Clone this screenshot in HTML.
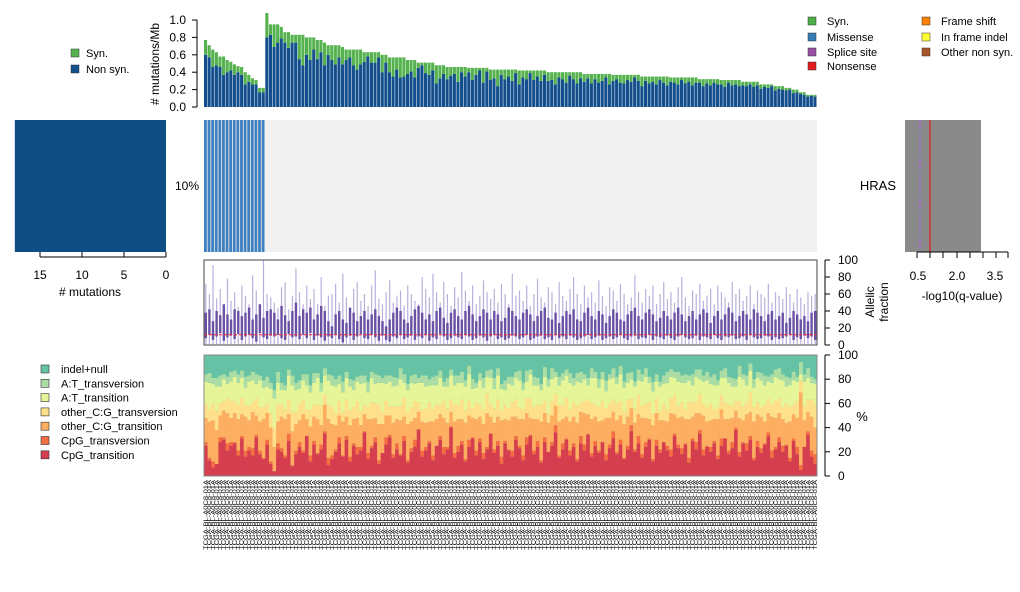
<!DOCTYPE html>
<html><head><meta charset="utf-8"><style>
body{margin:0;background:#fff;font-family:"Liberation Sans",sans-serif;}
svg text{font-family:"Liberation Sans",sans-serif;fill:#000;}
</style></head><body>
<svg id="chart" width="1020" height="587" viewBox="0 0 1020 587" xmlns="http://www.w3.org/2000/svg">
</svg>
<script>
const syn=[.17,.14,.20,.15,.12,.21,.14,.10,.12,.07,
.09,.14,.08,.07,.05,.05,.05,.28,.12,.26,
.21,.13,.12,.18,.09,.09,.28,.35,.20,.26,
.14,.22,.14,.26,.11,.17,.22,.14,.20,.12,
.09,.18,.23,.17,.11,.05,.12,.12,.06,.20,
.09,.17,.22,.14,.23,.22,.16,.13,.20,.06,
.03,.12,.14,.09,.21,.15,.10,.14,.10,.08,
.17,.06,.11,.05,.14,.08,.03,.17,.04,.12,
.10,.19,.06,.11,.08,.13,.04,.16,.08,.10,
.03,.11,.07,.12,.05,.10,.09,.14,.06,.08,
.12,.04,.08,.13,.07,.09,.05,.11,.06,.10,
.08,.04,.12,.07,.05,.09,.10,.06,.08,.03,
.07,.11,.05,.08,.06,.09,.04,.07,.10,.05,
.06,.08,.03,.07,.05,.09,.06,.04,.08,.05,
.07,.04,.06,.05,.08,.03,.06,.05,.07,.04,
.05,.03,.06,.04,.05,.03,.04,.02,.05,.03,
.04,.03,.02,.04,.03,.02,.03,.02,.01,.02];
const total=[.77,.71,.66,.63,.58,.58,.54,.52,.49,.47,
.46,.40,.37,.33,.31,.22,.22,1.08,.95,.95,
.95,.92,.86,.86,.83,.83,.83,.83,.80,.80,
.80,.77,.77,.74,.71,.71,.71,.71,.69,.66,
.66,.66,.66,.66,.63,.63,.63,.63,.63,.60,
.60,.57,.57,.57,.57,.57,.54,.54,.54,.51,
.51,.51,.51,.51,.48,.48,.48,.46,.46,.46,
.46,.46,.46,.45,.45,.45,.45,.45,.45,.43,
.43,.43,.43,.43,.43,.43,.43,.42,.42,.42,
.42,.42,.42,.42,.42,.40,.40,.40,.40,.40,
.40,.40,.40,.40,.40,.38,.38,.38,.38,.38,
.38,.38,.38,.37,.37,.37,.37,.37,.37,.37,
.37,.35,.35,.35,.35,.35,.35,.35,.35,.34,
.34,.34,.34,.34,.34,.34,.34,.32,.32,.32,
.32,.32,.32,.31,.31,.31,.31,.31,.31,.29,
.29,.29,.29,.29,.26,.26,.26,.26,.24,.24,
.24,.22,.22,.20,.20,.17,.17,.14,.14,.14];
const afHi=[38,42,28,40,35,48,36,30,42,40,
34,38,44,30,36,48,32,40,42,38,30,46,35,28,40,
50,34,42,38,44,30,36,46,40,28,22,36,40,30,26,
44,38,28,34,40,30,36,42,34,28,22,30,38,44,40,
30,26,34,42,46,38,30,36,28,40,44,32,26,38,42,
34,30,40,46,36,28,34,42,38,30,40,36,28,32,44,
40,34,30,38,42,36,28,34,40,44,32,30,38,26,34,
40,36,42,30,28,38,44,34,30,40,36,26,34,42,38,
30,28,36,40,44,34,30,38,42,36,28,32,40,34,30,
38,44,36,28,34,40,30,36,42,38,26,34,40,30,36,
44,38,28,34,40,36,30,42,38,34,28,36,40,30,34,
38,26,32,40,36,30,34,28,38,40];
const afLo=[8,12,6,10,14,5,9,11,7,13,
6,10,12,8,4,14,9,7,11,10,12,8,6,13,9,
10,7,12,8,14,6,11,9,5,10,8,12,7,3,9,
11,6,10,13,8,7,12,9,5,11,6,4,10,8,12,
7,9,11,6,10,8,12,5,9,7,13,10,6,8,11,
9,7,12,10,6,8,11,9,5,10,12,7,9,6,8,
11,10,7,9,12,6,8,10,11,7,9,6,12,8,10,
7,11,9,6,8,10,12,7,9,11,6,8,10,7,9,
12,8,6,10,11,7,9,8,12,6,10,9,7,11,8,
6,10,12,9,7,8,11,6,10,9,7,12,8,6,10,
9,11,7,8,10,6,12,9,7,8,11,10,6,9,7,
8,10,12,6,9,7,11,8,10,6];
const afMx=[72,60,94,55,66,40,78,52,62,45,
70,58,48,82,64,40,100,60,56,50,44,68,74,42,58,
90,62,48,70,54,66,48,80,46,58,60,72,50,84,56,
42,66,74,52,60,46,70,88,54,48,62,76,50,58,64,
46,70,60,52,48,80,66,56,84,62,50,74,60,46,68,
56,86,64,52,70,48,58,76,62,54,66,50,72,60,48,
84,58,64,52,70,46,60,78,56,50,68,62,48,74,58,
52,66,80,60,48,70,56,62,50,76,58,46,68,64,52,
72,60,48,56,82,62,50,66,58,70,48,60,74,54,62,
50,68,80,56,46,64,60,72,52,58,66,48,70,62,56,
50,74,60,66,52,58,70,48,64,60,56,72,50,62,58,
54,68,60,50,66,56,48,62,58,60];
const cpgTs=[25,13,7,10,28,30,21,25,27,17,
31,16,21,17,32,18,14,26,10,4,22,20,15,29,8,
18,24,19,33,12,26,18,22,35,9,14,20,27,16,30,
12,25,18,21,36,14,23,28,10,19,26,32,15,22,17,
29,11,20,24,38,16,21,27,13,25,30,18,22,40,15,
20,26,12,24,31,17,28,14,22,35,19,25,10,27,21,
16,30,23,13,26,33,18,24,11,28,20,25,36,15,22,
30,17,24,12,27,21,34,16,25,19,28,13,23,31,18,
26,14,22,37,20,27,15,24,30,12,25,19,28,21,16,
33,23,18,26,11,29,22,35,17,24,20,27,14,25,31,
18,23,38,16,27,21,30,13,24,19,26,33,15,22,28,
20,25,12,29,18,5,24,34,16,10];
const cpgTv=[3,2,5,0,4,2,6,3,1,4,
2,5,3,6,2,3,1,4,2,0,5,3,2,6,1,
3,4,2,0,5,3,1,4,2,6,3,2,5,1,3,
4,2,6,3,1,5,2,4,3,0,6,2,3,5,1,
4,2,3,6,1,5,3,2,4,0,3,6,2,1,4,
5,3,2,6,1,4,3,5,2,0,3,4,6,2,1,
5,3,2,4,6,1,3,5,2,4,0,3,6,2,5,
1,4,3,2,6,5,1,3,4,2,0,5,3,6,2,
4,1,3,5,2,6,3,4,1,2,5,3,0,4,6,
2,3,5,1,4,2,6,3,5,1,4,2,3,6,0,
3,5,2,4,1,6,3,2,5,4,1,3,6,2,4,
5,1,3,2,6,4,0,3,5,8];
const otherTs=[20,30,34,28,18,22,25,20,24,26,
18,28,22,30,16,24,32,22,28,20,18,26,30,16,28,
22,18,30,14,24,20,28,16,22,32,26,20,18,28,16,
26,20,24,18,14,28,22,16,30,24,18,16,26,20,28,
16,30,22,18,14,24,20,16,28,22,18,24,20,12,26,
22,18,30,20,16,26,18,24,28,14,22,20,30,18,24,
28,16,22,30,20,14,26,18,32,20,24,22,16,28,20,
18,24,22,30,20,26,16,28,20,24,18,30,22,16,26,
20,28,24,14,22,18,30,20,16,28,22,24,18,20,30,
16,22,26,20,32,18,24,14,28,20,22,18,30,24,16,
26,20,14,28,18,24,20,30,22,26,18,16,28,24,20,
22,18,30,20,24,60,22,16,28,22];
const otherTv=[12,10,14,16,10,8,12,14,10,12,
14,10,12,8,14,12,10,8,12,16,14,10,8,12,16,
10,14,12,8,14,10,12,16,8,12,14,10,12,8,14,
12,10,14,12,8,10,14,12,16,10,12,8,14,10,12,
16,10,12,14,8,10,12,16,10,12,8,14,12,10,14,
12,16,10,12,8,14,10,12,16,10,12,14,8,12,10,
12,14,10,8,12,16,10,12,14,10,8,12,10,14,12,
16,10,12,14,8,10,12,14,10,12,16,8,12,10,14,
12,10,14,8,12,16,10,12,14,10,12,8,14,10,12,
16,10,12,8,14,12,10,16,10,12,14,8,10,12,14,
12,10,8,14,12,10,16,12,10,8,14,12,10,14,12,
10,16,12,8,14,10,12,10,14,20];
const atTs=[18,22,16,20,14,18,12,16,20,18,
16,14,20,18,12,22,16,14,20,24,18,12,16,20,22,
18,12,16,20,14,18,22,12,16,20,18,22,14,16,18,
20,14,16,22,18,12,20,16,18,24,14,20,16,18,22,
12,18,20,14,16,22,18,14,20,16,22,12,18,20,16,
18,14,20,22,16,12,20,18,14,22,16,20,18,12,20,
14,18,22,16,14,20,18,16,12,20,22,18,14,16,20,
18,22,14,20,16,18,12,20,22,16,18,14,20,18,16,
22,20,14,16,18,12,20,22,16,18,14,20,16,22,18,
14,20,16,22,18,14,20,12,18,22,16,20,18,14,20,
18,16,12,20,22,14,18,16,20,22,16,14,18,20,16,
22,14,18,20,16,5,20,18,14,16];
const atTv=[6,8,5,7,9,4,6,8,5,7,
6,9,5,7,8,4,6,8,5,7,9,6,4,5,8,
6,7,5,9,6,8,4,7,6,5,8,6,7,9,5,
6,8,4,7,6,9,5,8,6,4,7,5,8,6,9,
7,5,6,8,4,6,9,5,7,8,6,4,7,5,8,
6,9,5,7,8,4,6,8,5,7,9,6,4,8,6,
7,5,8,6,9,4,7,6,5,8,6,9,4,7,6,
5,8,6,7,9,4,6,8,5,7,6,9,4,8,6,
7,5,8,6,4,9,6,7,5,8,6,4,7,9,6,
5,8,6,7,4,9,6,8,5,7,6,9,4,6,8,
5,7,6,9,4,8,6,7,5,6,8,4,7,6,9,
5,8,6,7,4,10,6,8,5,4];
const xTicksLeft=[15,10,5,0];
const topTicks=[0,0.2,0.4,0.6,0.8,1.0];
const pctTicks=[0,20,40,60,80,100];
const qTickLabels=["0.5","2.0","3.5"];

const NS="http://www.w3.org/2000/svg";
const svg=document.getElementById('chart');
function mk(tag,attrs,parent){const e=document.createElementNS(NS,tag);for(const k in attrs)e.setAttribute(k,attrs[k]);(parent||svg).appendChild(e);return e;}
function txt(s,attrs,parent){const e=mk('text',attrs,parent);e.textContent=s;return e;}

const N=total.length, X0=204, X1=817, bw=(X1-X0)/N;
const xs=i=>X0+i*bw;
const yTop=v=>107-v*87;
const gTop=mk('g',{});


for(let i=0;i<N;i++){
 const ns=Math.max(0,total[i]-syn[i]);
 const r1=mk('rect',{x:xs(i),y:yTop(ns),width:bw-0.5,height:yTop(0)-yTop(ns),fill:'#134f8c'},gTop);
 
 
 const r2=mk('rect',{x:xs(i),y:yTop(total[i]),width:bw-0.5,height:yTop(ns)-yTop(total[i]),fill:'#55b24f'},gTop);
 
 
}
const axT=mk('g',{});


mk('line',{x1:197,x2:197,y1:yTop(0),y2:yTop(1),stroke:'#000'},axT);
topTicks.forEach(t=>{mk('line',{x1:192,x2:197,y1:yTop(t),y2:yTop(t),stroke:'#000'},axT);txt(t.toFixed(1),{x:186,y:yTop(t)+4,'font-size':12,'text-anchor':'end'},axT);});
const yt=txt('# mutations/Mb',{x:159,y:64,'font-size':12,'text-anchor':'middle',transform:'rotate(-90 159 64)'});


[['Syn.','#55b24f',53],['Non syn.','#134f8c',69]].forEach(([l,c,y])=>{
 const g=mk('g',{});
 mk('rect',{x:71,y:y-4,width:8,height:8,fill:c,stroke:'#333','stroke-width':0.5},g);
 txt(l,{x:86,y:y+4,'font-size':11},g);
});
[['Syn.','#4daf4a',808,21],['Missense','#377eb8',808,37],['Splice site','#984ea3',808,52],['Nonsense','#e41a1c',808,66],
 ['Frame shift','#ff7f00',922,21],['In frame indel','#ffff33',922,37],['Other non syn.','#a65628',922,52]].forEach(([l,c,x,y])=>{
 const g=mk('g',{});
 mk('rect',{x:x,y:y-4,width:8,height:8,fill:c,stroke:'#333','stroke-width':0.5},g);
 txt(l,{x:x+19,y:y+4,'font-size':11},g);
});

const mutCount=[18];
const xL=v=>166-v*8.4;
const lb=mk('rect',{x:xL(mutCount[0]),y:120,width:166-xL(mutCount[0]),height:132,fill:'#0f4d85'});

const axL=mk('g',{});
mk('line',{x1:xL(15),x2:166,y1:257,y2:257,stroke:'#000'},axL);
xTicksLeft.forEach(t=>{mk('line',{x1:xL(t),x2:xL(t),y1:252,y2:257,stroke:'#000'},axL);txt(String(t),{x:xL(t),y:279,'font-size':12,'text-anchor':'middle'},axL);});
txt('# mutations',{x:90,y:296,'font-size':12,'text-anchor':'middle'},axL);
const pc=txt('10%',{x:187,y:190,'font-size':12,'text-anchor':'middle'});

const mutated=17;
const gO=mk('g',{});
mk('rect',{x:X0,y:120,width:X1-X0,height:132,fill:'#f0f0f0'},gO);
for(let i=0;i<mutated;i++){const r=mk('rect',{x:xs(i),y:120,width:bw-0.8,height:132,fill:'#3f80c1'},gO);}
const hr=txt('HRAS',{x:896,y:190,'font-size':13,'text-anchor':'end'});

const gQ=mk('g',{});
mk('rect',{x:905,y:120,width:76,height:132,fill:'#8a8a8a'},gQ);
mk('line',{x1:920,x2:920,y1:120,y2:252,stroke:'#9b6bd1','stroke-width':1.5,'stroke-dasharray':'3,2'},gQ);
mk('line',{x1:930,x2:930,y1:120,y2:252,stroke:'#ff0000','stroke-width':1},gQ);
mk('line',{x1:917,x2:1008,y1:252,y2:252,stroke:'#000'},gQ);
[917,930,943,957,970,983,996,1008].forEach(x=>mk('line',{x1:x,x2:x,y1:252,y2:258,stroke:'#000'},gQ));
[918,957,995].forEach((x,k)=>txt(qTickLabels[k],{x:x,y:280,'font-size':12,'text-anchor':'middle'},gQ));
txt('-log10(q-value)',{x:962,y:300,'font-size':12,'text-anchor':'middle'},gQ);

const yA=v=>345-v*0.85;
const gA=mk('g',{});
for(let i=0;i<N;i++){
 const cx=xs(i)+bw/2;
 const w=mk('line',{x1:cx,x2:cx,y1:yA(1),y2:yA(afMx[i]),stroke:'#b8b0dc','stroke-width':1.2},gA);
 
 const b=mk('rect',{x:cx-1.2,y:yA(afHi[i]),width:2.4,height:yA(afLo[i])-yA(afHi[i]),fill:'#6a51a3'},gA);
 
}
mk('line',{x1:X0,x2:X1,y1:yA(12),y2:yA(12),stroke:'#ff2222','stroke-dasharray':'3,2'},gA);
mk('rect',{x:X0,y:260,width:X1-X0,height:85,fill:'none',stroke:'#444'},gA);
mk('line',{x1:825,x2:825,y1:yA(0),y2:yA(100),stroke:'#000'},gA);
pctTicks.forEach(t=>{mk('line',{x1:825,x2:830,y1:yA(t),y2:yA(t),stroke:'#000'},gA);txt(String(t),{x:838,y:yA(t)+4,'font-size':12},gA);});
txt('Allelic',{x:874,y:302,'font-size':12,'text-anchor':'middle',transform:'rotate(-90 874 302)'},gA);
txt('fraction',{x:888,y:302,'font-size':12,'text-anchor':'middle',transform:'rotate(-90 888 302)'},gA);

const yS=v=>476-v*1.21;
const specCols=['#d53e4f','#f46d43','#fdae61','#fee08b','#e6f598','#abdda4','#66c2a5'];
const specNames=['CpG_transition','CpG_transversion','other_C:G_transition','other_C:G_transversion','A:T_transition','A:T_transversion','indel+null'];
const layers=[cpgTs,cpgTv,otherTs,otherTv,atTs,atTv];
const gS=mk('g',{});
mk('rect',{x:X0,y:355,width:X1-X0,height:121,fill:specCols[6]},gS);
for(let i=0;i<N;i++){
 let acc=0;
 layers.forEach((L,k)=>{
  const v=L[i];
  const r=mk('rect',{x:xs(i),y:yS(acc+v),width:bw+0.3,height:v*1.21,fill:specCols[k]},gS);
  
  acc+=v;
 });
}
mk('rect',{x:X0,y:355,width:X1-X0,height:121,fill:'none',stroke:'#888'},gS);
mk('line',{x1:825,x2:825,y1:yS(0),y2:yS(100),stroke:'#000'},gS);
pctTicks.forEach(t=>{mk('line',{x1:825,x2:830,y1:yS(t),y2:yS(t),stroke:'#000'},gS);txt(String(t),{x:838,y:yS(t)+4,'font-size':12},gS);});
txt('%',{x:862,y:421,'font-size':13,'text-anchor':'middle'},gS);
[6,5,4,3,2,1,0].forEach((k,j)=>{
 const y=369+j*14.3;
 const g=mk('g',{});
 mk('rect',{x:41,y:y-4,width:8,height:8,fill:specCols[k],stroke:'#333','stroke-width':0.6},g);
 txt(specNames[k],{x:61,y:y+4,'font-size':11},g);
});

const gL=mk('g',{});
for(let i=0;i<N;i++){
 const cx=xs(i)+bw/2+1.8;
 const t=txt('TCGA-BL-A0C8-01A',{x:cx,y:480,'font-size':5,'text-anchor':'end',textLength:70,lengthAdjust:'spacingAndGlyphs',transform:'rotate(-90 '+cx+' 480)',fill:'#000'},gL);
 
}
</script>
</body></html>
